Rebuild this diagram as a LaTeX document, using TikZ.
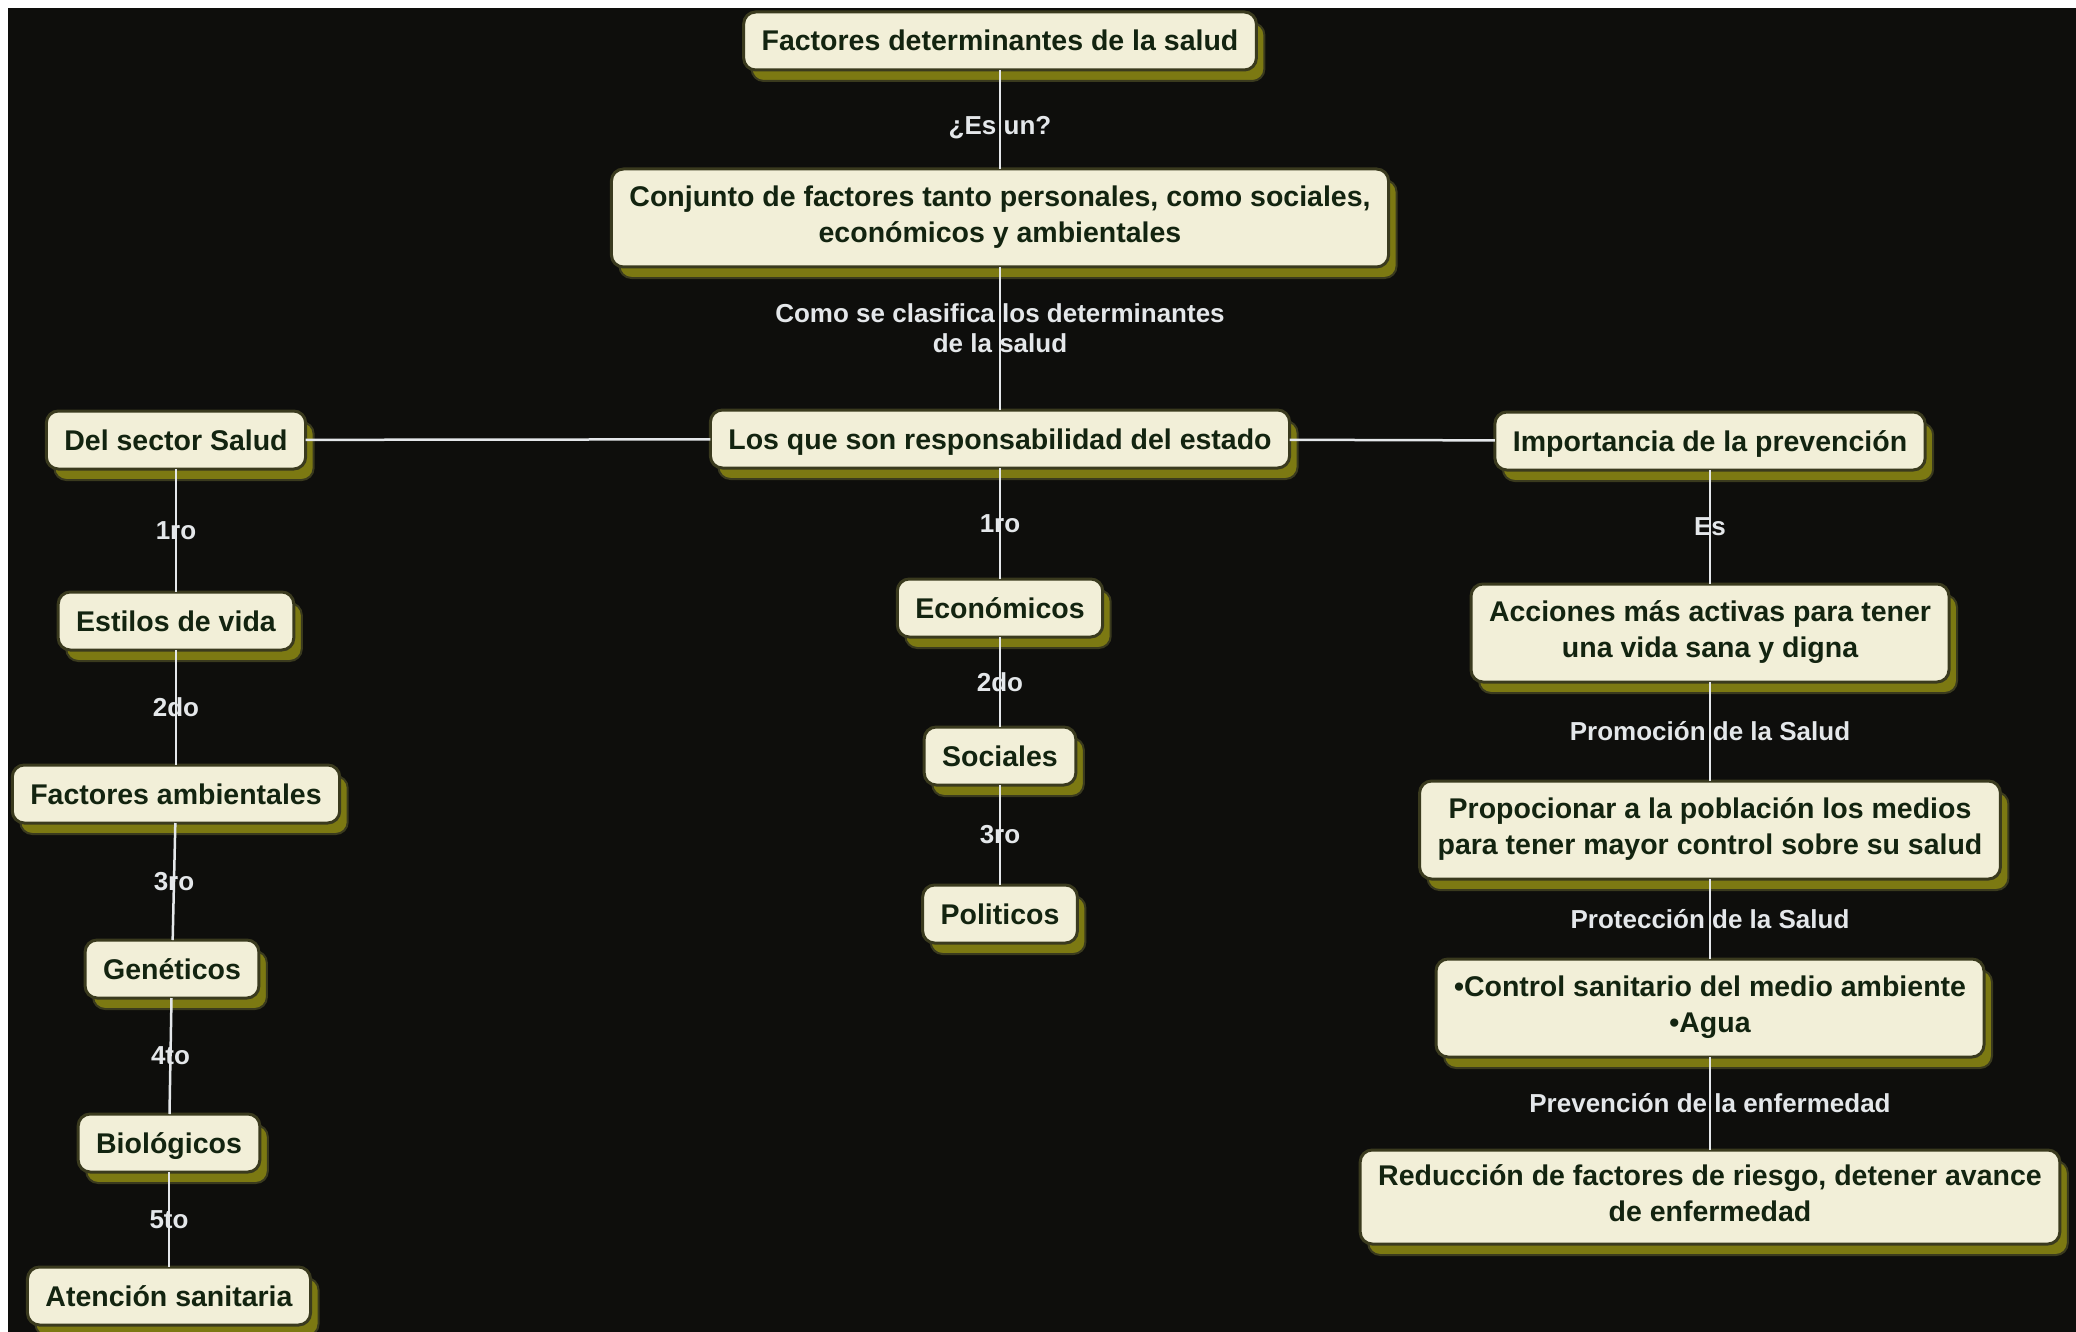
\documentclass[tikz,border=0pt]{standalone}
\usepackage{fontspec}
\setmainfont{Liberation Sans}
\usetikzlibrary{positioning,shadows}

\definecolor{boardBlack}{HTML}{0E0E0C}
\definecolor{cardCream}{HTML}{F2EFD8}
\definecolor{cardEdge}{HTML}{3A3A1E}
\definecolor{cardShadow}{HTML}{7C7912}
\definecolor{cardText}{HTML}{132410}
\definecolor{linkGrey}{HTML}{E4E7EA}

\begin{document}
\begin{tikzpicture}[x=1pt,y=-1pt]
  \tikzstyle{concept} = [
    % The shape:
    rectangle, rounded corners=12pt, inner xsep=18pt, inner ysep=4pt,
    minimum height=58pt, outer sep=0pt,
    % The border:
    line width=3pt,
    draw=cardEdge,
    % The filling:
    fill=cardCream,
    drop shadow={shadow xshift=8pt, shadow yshift=-11pt, fill=cardShadow,
                 draw=cardEdge, line width=2pt, opacity=1},
    % Font:
    text=cardText, align=center,
    font=\fontsize{28.5}{36}\selectfont\bfseries,
    execute at begin node={\rule[-7pt]{0pt}{34pt}},
    execute at end node={\rule[-7pt]{0pt}{34pt}}
  ];
  \tikzstyle{twoLines} = [
    minimum height=98pt
  ];
  \tikzstyle{linkLabel} = [
    % Just text!
    text=linkGrey, align=center, inner sep=1pt,
    font=\fontsize{26}{30}\selectfont\bfseries
  ];
  \tikzstyle{link} = [
    draw = linkGrey,
    line width=2.5pt
  ];

  % the board
  \fill [white] (0,0) rectangle (2076,1332);
  \fill [boardBlack] (8,8) rectangle (2076,1332);
  \useasboundingbox (0,0) rectangle (2076,1332);

  % middle column
  \node [concept] (factores) at (1000,41) {Factores determinantes de la salud};
  \node [concept, twoLines, below = 99pt of factores] (conjunto)
        {Conjunto de factores tanto personales, como sociales,\\ económicos y ambientales};
  \node [concept, below = 143pt of conjunto] (estado) {Los que son responsabilidad del estado};
  \node [concept, below = 111pt of estado] (economicos) {Económicos};
  \node [concept, below = 90pt of economicos] (sociales) {Sociales};
  \node [concept, below = 100pt of sociales] (politicos) {Politicos};

  % left column
  \node [concept] (sectorSalud) at (176,440) {Del sector Salud};
  \node [concept, below = 123pt of sectorSalud] (estilos) {Estilos de vida};
  \node [concept, below = 115pt of estilos] (ambientales) {Factores ambientales};
  \node [concept, below = 117pt of ambientales, xshift=-4pt] (geneticos) {Genéticos};
  \node [concept, below = 116pt of geneticos, xshift=-3pt] (biologicos) {Biológicos};
  \node [concept, below = 95pt of biologicos] (atencion) {Atención sanitaria};

  % right column
  \node [concept] (prevencion) at (1710,441) {Importancia de la prevención};
  \node [concept, twoLines, below = 114pt of prevencion] (acciones)
        {Acciones más activas para tener\\ una vida sana y digna};
  \node [concept, twoLines, below = 99pt of acciones] (medios)
        {Propocionar a la población los medios\\ para tener mayor control sobre su salud};
  \node [concept, twoLines, below = 80pt of medios] (control)
        {•Control sanitario del medio ambiente\\ •Agua};
  \node [concept, twoLines, minimum height=94pt, below = 93pt of control] (reduccion)
        {Reducción de factores de riesgo, detener avance\\ de enfermedad};

  \path [link] (factores) to node[linkLabel, pos=0.58]{¿Es un?} (conjunto);
  \path [link] (conjunto) to node[linkLabel, pos=0.43]
                                {Como se clasifica los determinantes\\ de la salud} (estado);
  \path [link] (estado) to (sectorSalud);
  \path [link] (estado) to (prevencion);

  \path [link] (estado) to node[linkLabel]{1ro} (economicos);
  \path [link] (economicos) to node[linkLabel]{2do} (sociales);
  \path [link] (sociales) to node[linkLabel]{3ro} (politicos);

  \path [link] (sectorSalud) to node[linkLabel]{1ro} (estilos);
  \path [link] (estilos) to node[linkLabel]{2do} (ambientales);
  \path [link] (ambientales) to node[linkLabel]{3ro} (geneticos);
  \path [link] (geneticos) to node[linkLabel]{4to} (biologicos);
  \path [link] (biologicos) to node[linkLabel]{5to} (atencion);

  \path [link] (prevencion) to node[linkLabel]{Es} (acciones);
  \path [link] (acciones) to node[linkLabel]{Promoción de la Salud} (medios);
  \path [link] (medios) to node[linkLabel]{Protección de la Salud} (control);
  \path [link] (control) to node[linkLabel]{Prevención de la enfermedad} (reduccion);
\end{tikzpicture}
\end{document}
